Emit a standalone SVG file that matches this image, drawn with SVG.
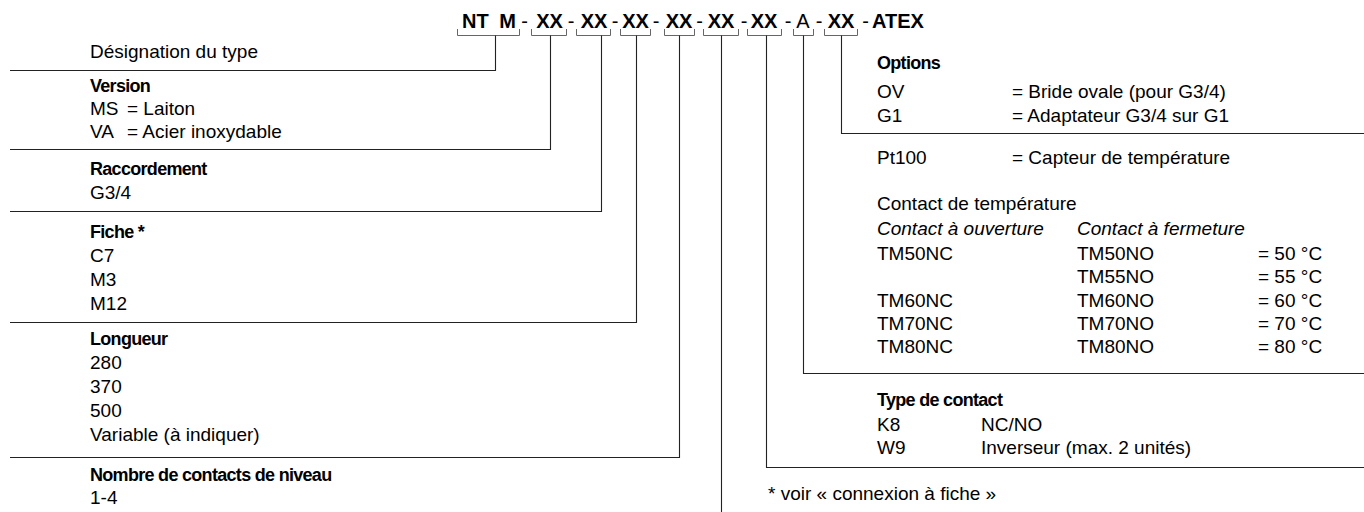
<svg xmlns="http://www.w3.org/2000/svg" width="1364" height="512" viewBox="0 0 1364 512">
<style>
text{font-family:"Liberation Sans",Arial,sans-serif;font-size:19px;fill:#000}
.b{font-weight:bold;font-size:18px;letter-spacing:-0.7px}
.h{font-size:20px;font-weight:bold;text-anchor:middle}
.hr{font-size:20px;text-anchor:middle}
.i{font-style:italic}
.br{fill:none;stroke:#666;stroke-width:1}
.c{fill:none;stroke:#222;stroke-width:1.1}
</style>
<rect width="1364" height="512" fill="#fff"/>
<g id="header">
<text x="489" y="28" class="h" word-spacing="5">NT M</text>
<path class="br" d="M457.5,29V35.5H519.5V29"/>
<text x="524.5" y="28" class="hr">-</text>
<text x="549.5" y="28" class="h">XX</text>
<path class="br" d="M531.5,29V35.5H566.5V29"/>
<text x="571" y="28" class="hr">-</text>
<text x="594" y="28" class="h">XX</text>
<path class="br" d="M576.5,29V35.5H610.5V29"/>
<text x="615" y="28" class="hr">-</text>
<text x="635.5" y="28" class="h">XX</text>
<path class="br" d="M620.5,29V35.5H650.5V29"/>
<text x="656" y="28" class="hr">-</text>
<text x="679" y="28" class="h">XX</text>
<path class="br" d="M664.5,29V35.5H694.5V29"/>
<text x="699.5" y="28" class="hr">-</text>
<text x="721" y="28" class="h">XX</text>
<path class="br" d="M703.5,29V35.5H738.5V29"/>
<text x="744" y="28" class="hr">-</text>
<text x="764" y="28" class="h">XX</text>
<path class="br" d="M747.5,29V35.5H781.5V29"/>
<text x="788" y="28" class="hr">-</text>
<text x="803" y="28" class="hr">A</text>
<path class="br" d="M793.5,29V35.5H813.5V29"/>
<text x="819" y="28" class="hr">-</text>
<text x="841" y="28" class="h">XX</text>
<path class="br" d="M824.5,29V35.5H857.5V29"/>
<text x="865.5" y="28" class="hr">-</text>
<text x="872" y="28" class="h" style="text-anchor:start">ATEX</text>
</g>
<g id="connectors">
<path class="c" d="M495.5,35.5V70.5H10"/>
<path class="c" d="M550.5,35.5V149.5H10"/>
<path class="c" d="M601.5,35.5V211.5H10"/>
<path class="c" d="M636.5,35.5V322.5H10"/>
<path class="c" d="M679.5,35.5V457.5H10"/>
<path class="c" d="M721.5,35.5V512"/>
<path class="c" d="M766.5,35.5V467.5H1364"/>
<path class="c" d="M803.5,35.5V373.5H1364"/>
<path class="c" d="M841.5,35.5V133.5H1364"/>
</g>
<g id="designation">
<text x="90" y="58">Désignation du type</text>
</g>
<g id="version">
<text x="90" y="92" class="b">Version</text>
<text x="90" y="115">MS</text><text x="127" y="115">= Laiton</text>
<text x="90" y="138">VA</text><text x="127" y="138">= Acier inoxydable</text>
</g>
<g id="raccordement">
<text x="90" y="175" class="b">Raccordement</text>
<text x="90" y="199">G3/4</text>
</g>
<g id="fiche">
<text x="90" y="238" class="b">Fiche *</text>
<text x="90" y="262">C7</text>
<text x="90" y="286">M3</text>
<text x="90" y="310">M12</text>
</g>
<g id="longueur">
<text x="90" y="345" class="b">Longueur</text>
<text x="90" y="369">280</text>
<text x="90" y="393">370</text>
<text x="90" y="417">500</text>
<text x="90" y="441">Variable (à indiquer)</text>
</g>
<g id="niveau">
<text x="90" y="481" class="b">Nombre de contacts de niveau</text>
<text x="90" y="504">1-4</text>
</g>
<g id="options">
<text x="877" y="69" class="b">Options</text>
<text x="877" y="98">OV</text><text x="1012" y="98">= Bride ovale (pour G3/4)</text>
<text x="877" y="122">G1</text><text x="1012" y="122">= Adaptateur G3/4 sur G1</text>
</g>
<g id="temperature">
<text x="877" y="164">Pt100</text><text x="1012" y="164">= Capteur de température</text>
<text x="877" y="210">Contact de température</text>
<text x="877" y="235" class="i">Contact à ouverture</text><text x="1077" y="235" class="i">Contact à fermeture</text>
<text x="877" y="260">TM50NC</text><text x="1077" y="260">TM50NO</text><text x="1258" y="260">= 50 °C</text>
<text x="1077" y="283">TM55NO</text><text x="1258" y="283">= 55 °C</text>
<text x="877" y="307">TM60NC</text><text x="1077" y="307">TM60NO</text><text x="1258" y="307">= 60 °C</text>
<text x="877" y="330">TM70NC</text><text x="1077" y="330">TM70NO</text><text x="1258" y="330">= 70 °C</text>
<text x="877" y="353">TM80NC</text><text x="1077" y="353">TM80NO</text><text x="1258" y="353">= 80 °C</text>
</g>
<g id="typecontact">
<text x="877" y="406" class="b">Type de contact</text>
<text x="877" y="431">K8</text><text x="981" y="431">NC/NO</text>
<text x="877" y="454">W9</text><text x="981" y="454">Inverseur (max. 2 unités)</text>
</g>
<g id="note">
<text x="768" y="500">* voir « connexion à fiche »</text>
</g>
</svg>
